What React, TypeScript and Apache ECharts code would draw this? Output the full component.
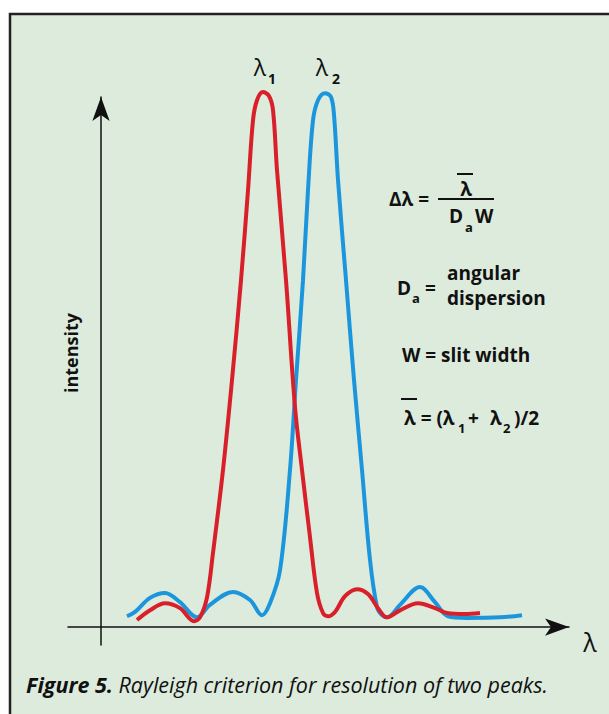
import React, { useEffect, useRef } from "react";
import * as echarts from "echarts";

// wavelength (arbitrary units) and intensity (% of peak)
const lambda1X = [36, 49, 64, 79, 93, 99, 106, 112, 122, 131, 140, 147, 152, 156, 162, 168, 172, 176, 185, 194, 201, 209, 216, 222, 227, 234, 244, 256, 267, 277, 286, 299, 317, 334, 346, 364, 379];
const lambda1Y = [1.3, 3.1, 4.4, 3.5, 1.1, 1.8, 5.5, 13.7, 29.0, 45.6, 64.0, 80.6, 93.5, 97.2, 98.7, 98.0, 95.4, 84.3, 64.0, 40.6, 29.0, 16.6, 6.3, 2.6, 2.0, 2.8, 5.7, 7.0, 6.1, 3.5, 1.8, 3.1, 4.4, 3.5, 2.6, 2.4, 2.6];

const lambda2X = [26, 34, 49, 64, 79, 96, 109, 132, 149, 161, 169, 179, 189, 195, 202, 207, 212, 217, 224, 230, 233, 237, 245, 253, 261, 269, 276, 281, 286, 299, 319, 334, 347, 366, 399, 421];
const lambda2Y = [2.0, 2.8, 5.4, 6.3, 4.6, 1.8, 4.1, 6.5, 5.0, 2.2, 4.4, 10.5, 29.0, 45.6, 64.0, 80.6, 93.5, 97.2, 98.5, 97.8, 94.5, 82.5, 64.0, 45.6, 29.0, 12.4, 3.7, 2.2, 1.8, 4.1, 7.4, 4.6, 2.0, 1.7, 1.8, 2.2];

const xMin = -33;
const xMax = 468;
const yMin = -3.3;
const yMax = 97.8;

const FONT = "'Open Sans', sans-serif";
const BG = "#dcebdc";
const RED = "#d9202a";
const BLUE = "#1b96dc";

function t(text: string, x: number, y: number, size: number, opts: any = {}) {
  return {
    type: "text",
    x,
    y,
    rotation: opts.rotation || 0,
    style: {
      text,
      fontFamily: FONT,
      fontSize: size,
      fontWeight: opts.weight || "bold",
      fontStyle: opts.italic ? "italic" : "normal",
      fill: "#111",
      align: opts.align || "left",
      verticalAlign: "middle",
    },
    z: 10,
  };
}

function ln(x1: number, y1: number, x2: number, y2: number, w = 2) {
  return {
    type: "line",
    shape: { x1, y1, x2, y2 },
    style: { stroke: "#111", lineWidth: w },
    z: 10,
  };
}

export default function App() {
  const ref = useRef<HTMLDivElement>(null);
  useEffect(() => {
    if (!ref.current) return;
    const chart = echarts.init(ref.current, null, { renderer: "svg" });
    const d1 = lambda1X.map((x, i) => [x, lambda1Y[i]]);
    const d2 = lambda2X.map((x, i) => [x, lambda2Y[i]]);
    const fs = 19;
    chart.setOption({
      animation: false,
      backgroundColor: "#ffffff",
      grid: { left: 68, top: 97, width: 501, height: 548 },
      xAxis: {
        type: "value",
        min: xMin,
        max: xMax,
        axisLine: {
          onZero: true,
          symbol: ["none", "arrow"],
          symbolSize: [13, 24],
          lineStyle: { color: "#111", width: 1.5 },
        },
        axisTick: { show: false },
        axisLabel: { show: false },
        splitLine: { show: false },
      },
      yAxis: {
        type: "value",
        min: yMin,
        max: yMax,
        axisLine: {
          onZero: true,
          symbol: ["none", "arrow"],
          symbolSize: [13, 24],
          lineStyle: { color: "#111", width: 1.5 },
        },
        axisTick: { show: false },
        axisLabel: { show: false },
        splitLine: { show: false },
      },
      graphic: [
        {
          type: "rect",
          shape: { x: 10, y: 14, width: 640, height: 760 },
          style: { fill: BG, stroke: "#222", lineWidth: 2.5 },
          z: -100,
          silent: true,
        },
        // peak labels
        t("λ", 260, 67, 23, { weight: "normal", align: "center" }),
        t("1", 268, 78, 14),
        t("λ", 322, 67, 23, { weight: "normal", align: "center" }),
        t("2", 332, 78, 14),
        // axis labels
        t("λ", 590, 642, 25, { weight: "normal", align: "center" }),
        t("intensity", 71, 353, 18, { rotation: Math.PI / 2, align: "center" }),
        // Δλ = λ̄ / (Da W)
        t("Δλ =", 389, 199, fs),
        ln(438, 199, 494, 199),
        t("λ", 466, 189, fs, { align: "center" }),
        ln(457, 174, 473, 174),
        t("D", 449, 216, fs),
        t("a", 465, 227, 13),
        t("W", 475, 216, fs),
        // Da = angular dispersion
        t("D", 397, 288, fs),
        t("a", 412, 298, 13),
        t("=", 425, 288, fs),
        t("angular", 447, 273, fs),
        t("dispersion", 447, 298, fs),
        // W = slit width
        t("W = slit width", 402, 355, fs),
        // λ̄ = (λ1 + λ2)/2
        ln(401, 399, 417, 399),
        t("λ = (λ", 404, 418, fs),
        t("1", 458, 428, 13),
        t("+", 468, 418, fs),
        t("λ", 490, 418, fs),
        t("2", 503, 428, 13),
        t(")/2", 514, 418, fs),
        // caption
        {
          type: "text",
          x: 26,
          y: 684,
          style: {
            text: "{b|Figure 5.} {i|Rayleigh criterion for resolution of two peaks.}",
            fontFamily: FONT,
            fontSize: 21.5,
            fill: "#111",
            verticalAlign: "middle",
            rich: {
              b: { fontFamily: FONT, fontSize: 21.5, fontWeight: "bold", fontStyle: "italic", fill: "#111" },
              i: { fontFamily: FONT, fontSize: 21.5, fontWeight: "normal", fontStyle: "italic", fill: "#111" },
            },
          },
          z: 10,
        },
      ],
      series: [
        {
          type: "line",
          data: d2,
          smooth: 0.35,
          showSymbol: false,
          clip: false,
          lineStyle: { color: BLUE, width: 4 },
          z: 3,
        },
        {
          type: "line",
          data: d1,
          smooth: 0.35,
          showSymbol: false,
          clip: false,
          lineStyle: { color: RED, width: 4 },
          z: 4,
        },
      ],
    });
    return () => chart.dispose();
  }, []);
  return (
    <div
      ref={ref}
      style={{ position: "fixed", left: 0, top: 0, width: 609, height: 714 }}
    />
  );
}
